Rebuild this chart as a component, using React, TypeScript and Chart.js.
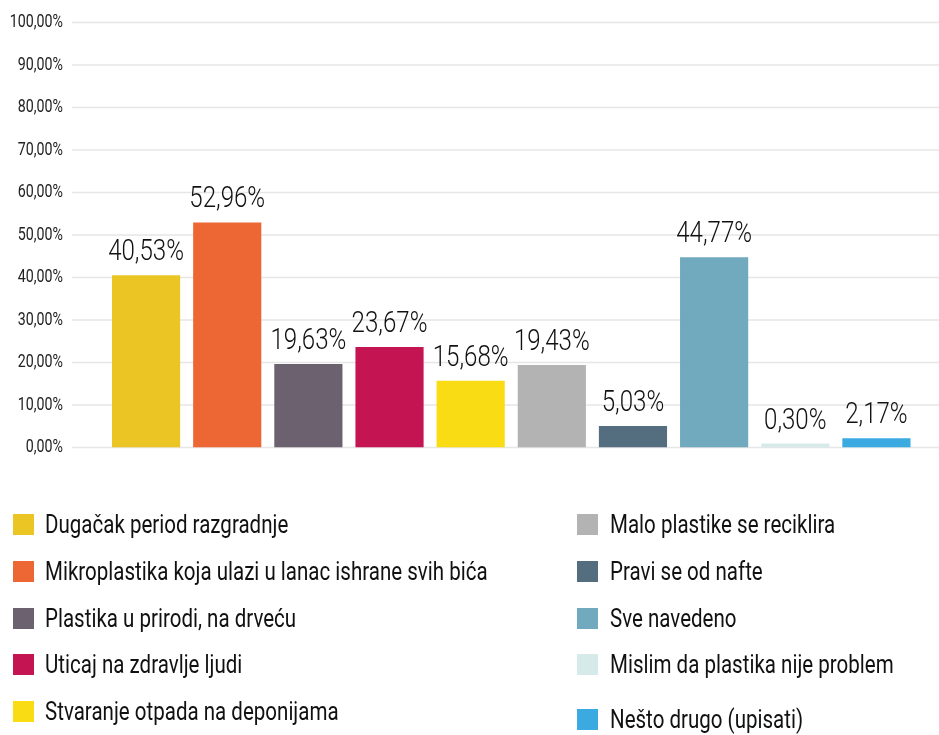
import React, { useEffect, useRef } from "react";
import { Chart, registerables } from "chart.js";

Chart.register(...registerables);

const categories = [
  "Dugačak period razgradnje",
  "Mikroplastika koja ulazi u lanac ishrane svih bića",
  "Plastika u prirodi, na drveću",
  "Uticaj na zdravlje ljudi",
  "Stvaranje otpada na deponijama",
  "Malo plastike se reciklira",
  "Pravi se od nafte",
  "Sve navedeno",
  "Mislim da plastika nije problem",
  "Nešto drugo (upisati)",
];
const values = [40.53, 52.96, 19.63, 23.67, 15.68, 19.43, 5.03, 44.77, 0.3, 2.17];
const colors = [
  "#EBC524",
  "#EC6733",
  "#6C616E",
  "#C41452",
  "#F9DC14",
  "#B3B3B3",
  "#546E80",
  "#71A9BF",
  "#D6EBE9",
  "#3AAAE0",
];
const yMin = 0;
const yMax = 100;
const yStep = 10;

const FONT = "Roboto, 'Noto Sans', sans-serif";

const fmt = (v: number) => v.toFixed(2).replace(".", ",") + "%";

const gridPlugin = {
  id: "fullGrid",
  beforeDatasetsDraw(chart: any) {
    const ctx = chart.ctx;
    const y = chart.scales.y;
    ctx.save();
    ctx.strokeStyle = "#e6e6e6";
    ctx.lineWidth = 1.5;
    y.ticks.forEach((t: any) => {
      const py = y.getPixelForValue(t.value);
      ctx.beginPath();
      ctx.moveTo(72, py);
      ctx.lineTo(chart.width, py);
      ctx.stroke();
    });
    ctx.font = `400 18px ${FONT}`;
    ctx.fillStyle = "#222";
    ctx.textAlign = "right";
    ctx.textBaseline = "middle";
    y.ticks.forEach((t: any) => {
      const py = y.getPixelForValue(t.value);
      ctx.save();
      ctx.translate(63, py);
      ctx.scale(0.79, 1);
      ctx.fillText(fmt(t.value), 0, 0);
      ctx.restore();
    });
    ctx.restore();
  },
};

const labelPlugin = {
  id: "barLabels",
  afterDatasetsDraw(chart: any) {
    const ctx = chart.ctx;
    const meta = chart.getDatasetMeta(0);
    ctx.save();
    ctx.font = `300 29px ${FONT}`;
    ctx.fillStyle = "#111";
    ctx.textAlign = "center";
    ctx.textBaseline = "alphabetic";
    meta.data.forEach((el: any, i: number) => {
      ctx.save();
      ctx.translate(el.x, el.y - 15);
      ctx.scale(0.83, 1);
      ctx.fillText(fmt(values[i]), 0, 0);
      ctx.restore();
    });
    ctx.restore();
  },
};

function BarChart() {
  const ref = useRef<HTMLCanvasElement | null>(null);
  useEffect(() => {
    if (!ref.current) return;
    const chart = new Chart(ref.current, {
      type: "bar",
      data: {
        labels: categories,
        datasets: [
          {
            data: values,
            backgroundColor: colors,
            borderWidth: 0,
            categoryPercentage: 1,
            barPercentage: 0.84,
            minBarLength: 4,
          },
        ],
      },
      options: {
        animation: false,
        responsive: true,
        maintainAspectRatio: false,
        layout: { padding: { top: 22.5, right: 22, bottom: 287.5, left: 0 } },
        plugins: {
          legend: { display: false },
          tooltip: { enabled: false },
        },
        scales: {
          x: { display: false },
          y: {
            min: yMin,
            max: yMax,
            afterFit: (scale: any) => {
              scale.width = 105.5;
              scale.paddingTop = 0;
              scale.paddingBottom = 0;
            },
            border: { display: false },
            grid: { display: false, drawTicks: false },
            ticks: {
              stepSize: yStep,
              display: false,
              padding: 0,
            },
          },
        },
      },
      plugins: [gridPlugin, labelPlugin],
    });
    return () => chart.destroy();
  }, []);
  return <canvas ref={ref} />;
}

export default function App() {
  const left = categories.slice(0, 5).map((c, i) => ({ c, i }));
  const right = categories.slice(5).map((c, i) => ({ c, i: i + 5 }));
  const item = (c: string, ci: number, x: number, top: number, tx: number) => (
    <div
      key={c}
      style={{
        position: "absolute",
        left: x,
        top,
        height: 21,
        whiteSpace: "nowrap",
      }}
    >
      <div
        style={{
          position: "absolute",
          left: 0,
          top: 0,
          width: 21,
          height: 21,
          background: colors[ci],
        }}
      />
      <span
        style={{
          position: "absolute",
          left: tx - x,
          top: -5,
          fontFamily: FONT,
          fontSize: 25.5,
          color: "#111",
          lineHeight: "30px",
          transform: "scaleX(0.805)",
          transformOrigin: "0 0",
          display: "inline-block",
        }}
      >
        {c}
      </span>
    </div>
  );
  return (
    <div
      style={{
        position: "absolute",
        left: 0,
        top: 0,
        width: 939,
        height: 735,
        background: "#fff",
        overflow: "hidden",
      }}
    >
      <div style={{ position: "absolute", left: 0, top: 0, width: 939, height: 735 }}>
        <BarChart />
      </div>
      {left.map(({ c, i }) => item(c, i, 13, 514 + i * 46.8, 45))}
      {right.map(({ c, i }) =>
        item(c, i, 577, 514 + (i - 5) * 46.8 + (i === 9 ? 8 : 0), 610)
      )}
    </div>
  );
}
